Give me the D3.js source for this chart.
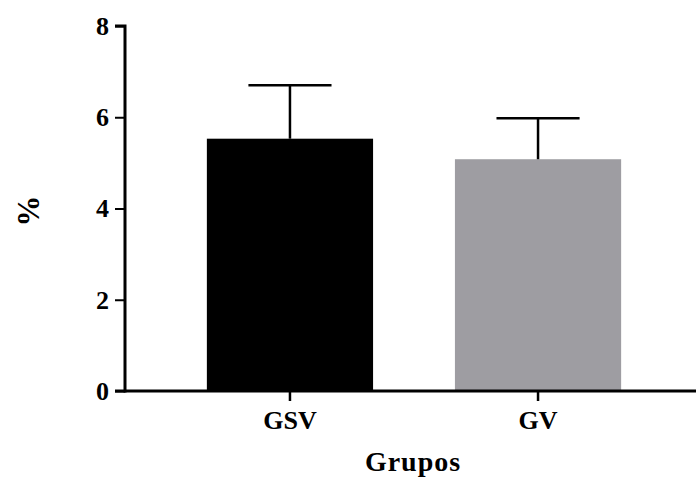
<!DOCTYPE html>
<html><head><meta charset="utf-8">
<script src="https://cdn.jsdelivr.net/npm/d3@7"></script>
<style>body{margin:0;background:#fff}</style>
</head><body>
<svg id="c" width="696" height="479"></svg>
<script>
const categories = ["GSV", "GV"];
const means = [5.53, 5.08];
const errors = [1.17, 0.90];
const colors = ["#000000", "#9e9da2"];
const yTicks = [0, 2, 4, 6, 8];

const svg = d3.select("#c");
const font = "'Liberation Serif','Times New Roman',serif";
const y = d3.scaleLinear().domain([0, 8]).range([391, 26]);
const x = d3.scaleBand().domain(categories).range([125, 703]).paddingInner(0.33).paddingOuter(0.33);

// bars
svg.selectAll("rect.bar").data(categories).enter().append("rect")
  .attr("x", d => x(d)).attr("width", x.bandwidth())
  .attr("y", (d,i) => y(means[i])).attr("height", (d,i) => y(0) - y(means[i]))
  .attr("fill", (d,i) => colors[i]);

// error bars
categories.forEach((c,i) => {
  const cx = x(c) + x.bandwidth()/2;
  svg.append("line").attr("x1", cx).attr("x2", cx)
    .attr("y1", y(means[i])).attr("y2", y(means[i]+errors[i]))
    .attr("stroke", "#000").attr("stroke-width", 2.5);
  svg.append("line").attr("x1", cx - x.bandwidth()/4).attr("x2", cx + x.bandwidth()/4)
    .attr("y1", y(means[i]+errors[i])).attr("y2", y(means[i]+errors[i]))
    .attr("stroke", "#000").attr("stroke-width", 2.5);
});

// y axis
const ya = svg.append("g").attr("transform", "translate(125,0)")
  .call(d3.axisLeft(y).tickValues(yTicks).tickSize(10).tickPadding(6));
ya.select(".domain").attr("stroke-width", 3).attr("d", `M-10,${y(8)}H0V${y(0)+1.5}`);
ya.selectAll(".tick line").attr("stroke-width", 2);
ya.selectAll(".tick text").attr("font-family", font).attr("font-weight", "bold")
  .attr("font-size", 26).attr("fill", "#000");

// x axis
const xa = svg.append("g").attr("transform", "translate(0,391)")
  .call(d3.axisBottom(x).tickSize(10).tickPadding(10));
xa.select(".domain").attr("stroke-width", 3).attr("d", `M115,0H696`);
xa.selectAll(".tick line").attr("stroke-width", 2.5);
xa.selectAll(".tick text").attr("font-family", font).attr("font-weight", "bold")
  .attr("font-size", 26).attr("fill", "#000");

// axis titles
svg.append("text").attr("x", 413).attr("y", 471).attr("text-anchor", "middle")
  .attr("font-family", font).attr("font-weight", "bold").attr("font-size", 28)
  .attr("letter-spacing", 1).text("Grupos");
svg.append("text").attr("transform", "translate(39,211) rotate(-90)").attr("text-anchor", "middle")
  .attr("font-family", font).attr("font-weight", "bold").attr("font-size", 31).text("%");
</script>
</body></html>
